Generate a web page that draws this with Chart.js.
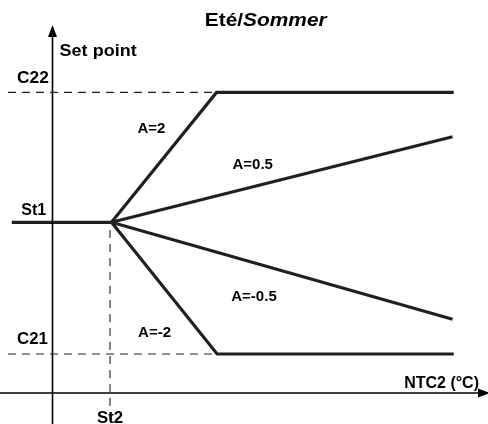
<!DOCTYPE html>
<html>
<head>
<meta charset="utf-8">
<script src="https://cdn.jsdelivr.net/npm/chart.js@4/dist/chart.umd.min.js"></script>
<style>
  html, body { margin: 0; padding: 0; background: #ffffff; }
  #wrap { width: 488px; height: 424px; position: relative; }
</style>
</head>
<body>
<div id="wrap"><canvas id="c" width="488" height="424"></canvas></div>
<script>
// ---- Data (diagram units: x = NTC2 temperature, y = set point) ----
const seriesNames = ['A=2', 'A=0.5', 'A=-0.5', 'A=-2'];
const baseX  = [-0.69, 1.00];
const baseY  = [5.69, 5.69];
const a2X    = [1.00, 2.78, 6.80];
const a2Y    = [5.69, 10.02, 10.02];
const a05X   = [1.00, 6.78];
const a05Y   = [5.69, 8.54];
const am05X  = [1.00, 6.78];
const am05Y  = [5.69, 2.46];
const am2X   = [1.00, 2.79, 6.80];
const am2Y   = [5.69, 1.30, 1.30];
const levelNames  = ['C22', 'St1', 'C21'];
const levelValues = [10.02, 5.69, 1.30];
const st2Name  = 'St2';
const st2Value = 0.975;
const titleParts = ['Eté/', 'Sommer'];
const yAxisName = 'Set point';
const xAxisName = 'NTC2 (°C)';

// ---- helpers ----
const pts = (xs, ys) => xs.map((x, i) => ({ x: x, y: ys[i] }));
const INK = '#231f20';

const solid = (label, xs, ys) => ({
  label: label, data: pts(xs, ys), borderColor: INK, borderWidth: 3.2,
  pointRadius: 0, tension: 0, fill: false, borderCapStyle: 'butt', borderJoinStyle: 'miter'
});
const dashed = (label, xs, ys) => ({
  label: label, data: pts(xs, ys), borderColor: INK, borderWidth: 1.1,
  borderDash: [8, 6], pointRadius: 0, tension: 0, fill: false
});
const axisLine = (label, xs, ys) => ({
  label: label, data: pts(xs, ys), borderColor: '#000', borderWidth: 1.6,
  pointRadius: 0, tension: 0, fill: false
});

const X_MIN = -0.8898, X_MAX = 7.381, Y_MIN = -1.0333, Y_MAX = 13.1;

const datasets = [
  axisLine('x axis', [X_MIN, X_MAX - 0.1], [0, 0]),
  axisLine('y axis', [0, 0], [Y_MIN, 12.0]),
  dashed(levelNames[0] + ' ref', [-0.754, a2X[1]], [levelValues[0], levelValues[0]]),
  dashed(levelNames[2] + ' ref', [-0.754, am2X[1]], [levelValues[2], levelValues[2]]),
  dashed(st2Name + ' ref', [st2Value, st2Value], [5.43, Y_MIN]),
  solid(levelNames[1], baseX, baseY),
  solid(seriesNames[0], a2X, a2Y),
  solid(seriesNames[1], a05X, a05Y),
  solid(seriesNames[2], am05X, am05Y),
  solid(seriesNames[3], am2X, am2Y)
];

// text annotations: [text, x, y, sizePx, stretch]
const annotations = [
  [yAxisName, 0.12, 11.22, 17, 1.06],
  [levelNames[0], -0.60, 10.32, 16, 1.08],
  [levelNames[1], -0.53, 5.94, 16, 1.0],
  [levelNames[2], -0.60, 1.63, 16, 1.05],
  [st2Name, 0.755, -1.0, 16, 1.05],
  [seriesNames[0], 1.44, 8.67, 15, 1.0],
  [seriesNames[1], 3.05, 7.47, 15, 1.0],
  [seriesNames[2], 3.03, 3.07, 15, 1.0],
  [seriesNames[3], 1.45, 1.87, 15, 1.0],
  [xAxisName, 5.96, 0.17, 16, 1.0]
];

const FONT = '"Liberation Sans", Arial, Helvetica, sans-serif';

const decor = {
  id: 'decor',
  afterDatasetsDraw(chart) {
    const ctx = chart.ctx;
    const xs = chart.scales.x, ys = chart.scales.y;
    ctx.save();
    // arrow heads
    ctx.fillStyle = '#000';
    const yTipX = xs.getPixelForValue(0), yTipY = ys.getPixelForValue(12.27);
    ctx.beginPath();
    ctx.moveTo(yTipX, yTipY);
    ctx.lineTo(yTipX - 4.5, yTipY + 12);
    ctx.lineTo(yTipX + 4.5, yTipY + 12);
    ctx.closePath();
    ctx.fill();
    const xTipX = xs.getPixelForValue(X_MAX) + 2, xTipY = ys.getPixelForValue(0);
    ctx.beginPath();
    ctx.moveTo(xTipX, xTipY);
    ctx.lineTo(xTipX - 12, xTipY - 4.5);
    ctx.lineTo(xTipX - 12, xTipY + 4.5);
    ctx.closePath();
    ctx.fill();

    // labels
    ctx.fillStyle = '#000';
    ctx.textBaseline = 'alphabetic';
    ctx.textAlign = 'left';
    annotations.forEach(a => {
      const px = xs.getPixelForValue(a[1]), py = ys.getPixelForValue(a[2]);
      ctx.save();
      ctx.translate(px, py);
      ctx.scale(a[4], 1);
      ctx.font = 'bold ' + a[3] + 'px ' + FONT;
      ctx.fillText(a[0], 0, 0);
      ctx.restore();
    });

    // title
    const tx = xs.getPixelForValue(2.58), ty = ys.getPixelForValue(12.24);
    ctx.save();
    ctx.translate(tx, ty);
    ctx.scale(1.1, 1);
    ctx.font = 'bold 19px ' + FONT;
    ctx.fillText(titleParts[0], 0, 0);
    const w = ctx.measureText(titleParts[0]).width;
    ctx.font = 'italic bold 19px ' + FONT;
    ctx.fillText(titleParts[1], w, 0);
    ctx.restore();
    ctx.restore();
  }
};

new Chart(document.getElementById('c'), {
  type: 'line',
  data: { datasets: datasets },
  options: {
    responsive: false,
    animation: false,
    events: [],
    layout: { padding: 0 },
    plugins: { legend: { display: false }, tooltip: { enabled: false }, title: { display: false } },
    scales: {
      x: { type: 'linear', min: X_MIN, max: X_MAX, display: false },
      y: { type: 'linear', min: Y_MIN, max: Y_MAX, display: false }
    }
  },
  plugins: [decor]
});
</script>
</body>
</html>
